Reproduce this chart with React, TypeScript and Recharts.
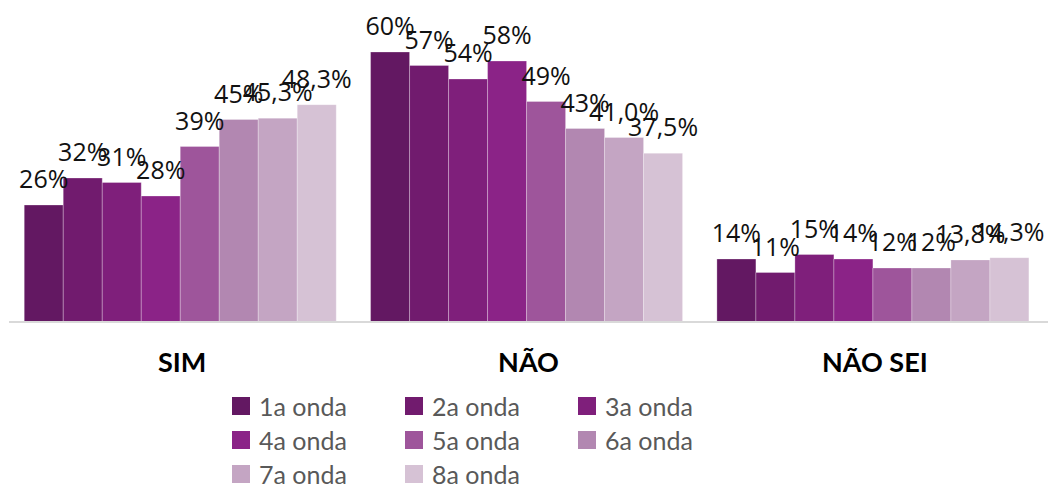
import { Bar, BarChart, LabelList, XAxis, YAxis } from "recharts";

const CATEGORIES = ["SIM", "NÃO", "NÃO SEI"];
const WAVES = ["1a onda", "2a onda", "3a onda", "4a onda", "5a onda", "6a onda", "7a onda", "8a onda"];
const WAVE_COLORS = ["#631862", "#711B6E", "#7F1F7B", "#8B2387", "#9E559B", "#B287B1", "#C4A5C3", "#D6C2D5"];
// one decimal shown only on the last two waves
const WAVE_DECIMALS = [0, 0, 0, 0, 0, 0, 1, 1];

const wave1 = [26, 60, 14];
const wave2 = [32, 57, 11];
const wave3 = [31, 54, 15];
const wave4 = [28, 58, 14];
const wave5 = [39, 49, 12];
const wave6 = [45, 43, 12];
const wave7 = [45.3, 41.0, 13.8];
const wave8 = [48.3, 37.5, 14.3];
const SERIES = [wave1, wave2, wave3, wave4, wave5, wave6, wave7, wave8];

const FONT = "Lato, 'Open Sans', sans-serif";
const LABEL_FONT = "'Open Sans', Lato, sans-serif";

const data = CATEGORIES.map((cat, i) => {
  const row: Record<string, number | string> = { cat };
  SERIES.forEach((s, w) => {
    row[`w${w}`] = s[i];
  });
  return row;
});

const fmt = (v: number, d: number) => `${v.toFixed(d).replace(".", ",")}%`;

function makeLabel(decimals: number) {
  return (props: any) => {
    const { x, y, width, value } = props;
    return (
      <text
        x={x + width / 2}
        y={y - 17}
        textAnchor="middle"
        fontFamily={LABEL_FONT}
        fontSize={25}
        fill="#111"
      >
        {fmt(Number(value), decimals)}
      </text>
    );
  };
}

function CatTick(props: any) {
  const { x, y, payload } = props;
  return (
    <text x={x} y={y + 42} textAnchor="middle" fontFamily={FONT} fontWeight={700} fontSize={27} fill="#000">
      {payload.value}
    </text>
  );
}

function WaveLegend() {
  return (
    <div
      style={{
        position: "absolute",
        top: 395,
        left: 232,
        display: "grid",
        gridTemplateColumns: "173px 173px 173px",
        rowGap: 12,
        fontFamily: FONT,
        fontSize: 25,
        color: "#595959",
      }}
    >
      {WAVES.map((w, i) => (
        <div key={w} style={{ display: "flex", alignItems: "center", height: 22, lineHeight: "22px" }}>
          <span style={{ width: 18, height: 18, background: WAVE_COLORS[i], marginRight: 9, display: "inline-block" }} />
          {w}
        </div>
      ))}
    </div>
  );
}

export default function App() {
  return (
    <div style={{ position: "absolute", top: 0, left: 0, width: 1051, height: 485 }}>
      <BarChart
        width={1051}
        height={485}
        data={data}
        margin={{ top: 7, right: 3, left: 9, bottom: 0 }}
        barCategoryGap="4.4%"
        barGap={0}
      >
        <XAxis
          dataKey="cat"
          height={163}
          tickLine={false}
          axisLine={{ stroke: "#d9d9d9", strokeWidth: 2 }}
          tick={<CatTick />}
          interval={0}
        />
        <YAxis hide domain={[0, 70]} />
        {WAVES.map((w, i) => (
          <Bar
            key={w}
            dataKey={`w${i}`}
            name={w}
            fill={WAVE_COLORS[i]}
            stroke="#ffffff"
            strokeOpacity={0.35}
            strokeWidth={0.8}
            isAnimationActive={false}
          >
            <LabelList dataKey={`w${i}`} content={makeLabel(WAVE_DECIMALS[i])} />
          </Bar>
        ))}
      </BarChart>
      <WaveLegend />
    </div>
  );
}
